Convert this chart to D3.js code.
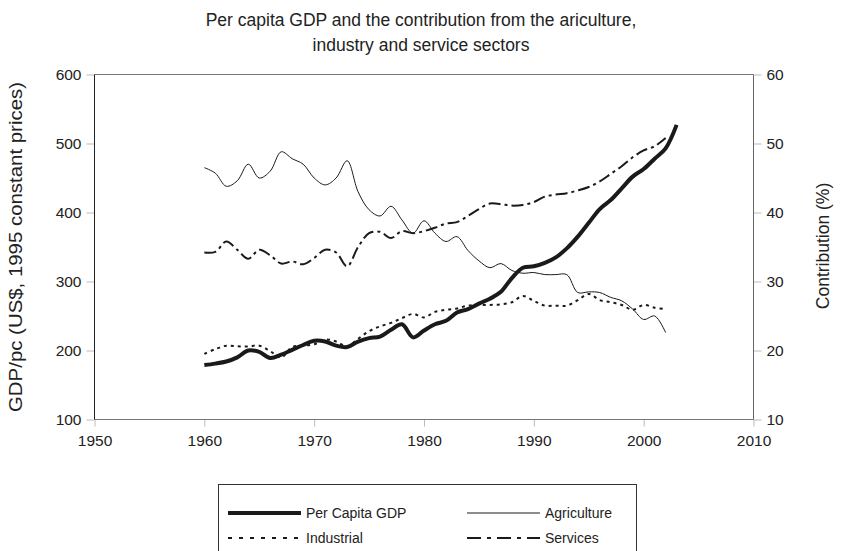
<!DOCTYPE html>
<html>
<head>
<meta charset="utf-8">
<script src="https://cdn.jsdelivr.net/npm/d3@7"></script>
<style>
body{margin:0;background:#fff;}
text{font-family:"Liberation Sans",Arial,sans-serif;fill:#222;}
</style>
</head>
<body>
<svg id="chart" width="841" height="551"></svg>
<script>
// data
var years = d3.range(1960, 2004);
var gdp = [179,181,184,190,200,198,189,194,201,208,214,213,207,205,213,218,220,230,238,219,
           229,238,243,255,260,268,275,285,305,320,322,327,335,348,365,385,405,418,435,452,
           463,478,493,527];
var agriculture = [46.5,45.7,43.8,44.6,47.0,45.0,46.0,48.8,47.8,47.0,45.0,44.0,45.0,47.5,43.0,40.4,39.5,40.9,38.9,37.0,
                   38.8,37.0,35.8,36.5,34.5,33.0,32.0,32.6,31.6,31.2,31.3,31.0,31.0,31.0,28.4,28.5,28.4,27.7,27.2,26.0,
                   24.5,25.0,22.6];
var industrial = [19.5,20.2,20.7,20.6,20.6,20.7,19.9,19.0,20.5,20.7,20.9,21.6,21.3,20.6,21.7,22.8,23.5,24.0,24.7,25.3,
                  24.8,25.6,25.9,26.1,26.5,26.6,26.6,26.7,27.0,27.9,27.2,26.5,26.5,26.5,27.3,28.2,27.3,27.0,26.6,25.9,
                  26.6,26.2,26.0];
var services = [34.2,34.3,35.8,34.6,33.3,34.6,33.8,32.6,32.9,32.5,33.4,34.6,34.2,32.2,35.0,37.0,37.2,36.3,37.3,37.0,
                37.3,37.8,38.4,38.6,39.5,40.5,41.3,41.2,41.0,41.1,41.5,42.3,42.6,42.8,43.2,43.7,44.5,45.6,46.7,48.0,
                49.0,49.6,50.8];
var xTicks = [1950,1960,1970,1980,1990,2000,2010];
var leftTicks = [100,200,300,400,500,600];
var rightTicks = [10,20,30,40,50,60];

var svg = d3.select("#chart");
var plotL = 94.5, plotR = 753.5, plotT = 74.5, plotB = 419.5;

var x = d3.scaleLinear().domain([1950,2010]).range([plotL,plotR]);
var yL = d3.scaleLinear().domain([100,600]).range([plotB,plotT]);
var yR = d3.scaleLinear().domain([10,60]).range([plotB,plotT]);

// title
svg.append("text").attr("x",421).attr("y",26).attr("text-anchor","middle").attr("font-size",17.5)
   .text("Per capita GDP and the contribution from the ariculture,");
svg.append("text").attr("x",421).attr("y",51).attr("text-anchor","middle").attr("font-size",17.5)
   .text("industry and service sectors");

// axes
var gx = svg.append("g").attr("transform","translate(0,"+plotB+")")
    .call(d3.axisBottom(x).tickValues(xTicks).tickFormat(d3.format("d")).tickSize(7).tickPadding(5));
var gl = svg.append("g").attr("transform","translate("+plotL+",0)")
    .call(d3.axisLeft(yL).tickValues(leftTicks).tickSize(8).tickPadding(5));
var gr = svg.append("g").attr("transform","translate("+plotR+",0)")
    .call(d3.axisRight(yR).tickValues(rightTicks).tickSize(8).tickPadding(5));
[gx,gl,gr].forEach(function(g){
    g.select(".domain").remove();
    g.selectAll(".tick line").attr("stroke","#bbb");
    g.selectAll(".tick text").attr("font-size",15.5).attr("fill","#222")
     .attr("font-family","'Liberation Sans',Arial,sans-serif");
});
gx.selectAll(".tick text").attr("dy","0.95em");

// frame
svg.append("line").attr("x1",plotL).attr("x2",plotR).attr("y1",plotT).attr("y2",plotT).attr("stroke","#777");
svg.append("line").attr("x1",plotL).attr("x2",plotR).attr("y1",plotB).attr("y2",plotB).attr("stroke","#777");
svg.append("line").attr("x1",plotR).attr("x2",plotR).attr("y1",plotT).attr("y2",plotB).attr("stroke","#666");
svg.append("line").attr("x1",plotL).attr("x2",plotL).attr("y1",plotT).attr("y2",plotB).attr("stroke","#222");

// axis titles
svg.append("text").attr("transform","translate(22,247) rotate(-90)").attr("text-anchor","middle")
   .attr("font-size",18).attr("textLength",330).attr("lengthAdjust","spacingAndGlyphs")
   .text("GDP/pc (US$, 1995 constant prices)");
svg.append("text").attr("transform","translate(829,246) rotate(-90)").attr("text-anchor","middle")
   .attr("font-size",17.5).text("Contribution (%)");

// series
function drawLine(vals, scale, width, dash){
    var line = d3.line()
        .x(function(d,i){ return x(years[i]); })
        .y(function(d){ return scale(d); })
        .curve(d3.curveCatmullRom);
    var p = svg.append("path").datum(vals)
        .attr("d",line).attr("fill","none")
        .attr("stroke","#1a1a1a").attr("stroke-width",width)
        .attr("stroke-linejoin","round");
    if(dash) p.attr("stroke-dasharray",dash);
    return p;
}
drawLine(agriculture, yR, 1, null);
drawLine(industrial, yR, 2, "3,4");
drawLine(services, yR, 2, "12,4,3,4");
drawLine(gdp, yL, 4, null);

// legend
svg.append("rect").attr("x",218.5).attr("y",484.5).attr("width",418).attr("height",80)
   .attr("fill","#fff").attr("stroke","#333");
var legendItems = [
    {name:"Per Capita GDP", lx:228, ly:513, w:4, dash:null},
    {name:"Agriculture", lx:467, ly:513, w:1, dash:null},
    {name:"Industrial", lx:228, ly:538, w:2, dash:"4,7"},
    {name:"Services", lx:467, ly:538, w:2, dash:"14,6,4,6"}
];
legendItems.forEach(function(d){
    var l = svg.append("line").attr("x1",d.lx).attr("x2",d.lx+73).attr("y1",d.ly).attr("y2",d.ly)
        .attr("stroke","#1a1a1a").attr("stroke-width",d.w);
    if(d.dash) l.attr("stroke-dasharray",d.dash);
    svg.append("text").attr("x",d.lx+78).attr("y",d.ly+5).attr("font-size",14).text(d.name);
});
</script>
</body>
</html>
